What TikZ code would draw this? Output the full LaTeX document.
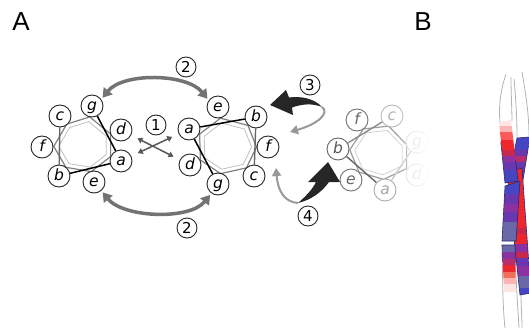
\documentclass[tikz,border=0pt]{standalone}
\usepackage{fontspec}
\setmainfont{Liberation Sans}
\newfontfamily\atomfont{DejaVu Sans}
\usetikzlibrary{arrows.meta,calc,fadings}

\pgfdeclarelayer{bg}
\pgfsetlayers{bg,main}

\tikzfading[name=fade right, left color=transparent!100, right color=transparent!0]

% palette for the chromatid bands
\definecolor{pkA}{RGB}{255,228,228}
\definecolor{pkB}{RGB}{255,180,180}
\definecolor{rdA}{RGB}{250,90,90}
\definecolor{rdB}{RGB}{238,38,45}
\definecolor{crm}{RGB}{200,40,75}
\definecolor{mgt}{RGB}{185,45,110}
\definecolor{pur}{RGB}{140,50,160}
\definecolor{vio}{RGB}{105,55,175}
\definecolor{blu}{RGB}{70,70,195}
\definecolor{slt}{RGB}{105,105,170}
\definecolor{orn}{RGB}{240,110,90}
\definecolor{nvy}{RGB}{40,40,105}

\tikzset{
  atom/.style={circle, draw=black!85, line width=0.9pt, fill=white,
    minimum size=22pt, inner sep=0pt, text height=8.2pt, text depth=0pt,
    font=\atomfont\itshape\fontsize{15.5}{15.5}\selectfont},
  numlbl/.style={circle, draw=black!85, line width=0.9pt, fill=white,
    minimum size=20pt, inner sep=0pt, text height=11pt, text depth=0pt,
    font=\atomfont\fontsize{15}{15}\selectfont},
  panel/.style={font=\fontsize{26}{26}\selectfont},
  ringo/.style={draw=black!50, line width=1.2pt, line join=round},
  ringi/.style={draw=black!25, line width=0.8pt, line join=round},
  bond/.style={draw=black, line width=1.5pt},
  gbond/.style={draw=black!60, line width=1.4pt},
  swapa/.style={draw=black!65, line width=1.5pt,
    {Triangle[length=5pt,width=6pt]}-{Triangle[length=5pt,width=6pt]},
    shorten <=7pt, shorten >=7pt},
  swapb/.style={draw=black!55, line width=3.5pt,
    {Triangle[length=9pt,width=11pt]}-{Triangle[length=9pt,width=11pt]}},
  lightarr/.style={draw=black!40, line width=2pt,
    -{Triangle[length=8pt,width=9pt]}},
  swoosh/.style={fill=black!85},
  outl/.style={draw=black!30, line width=0.8pt},
  edge/.style={draw=nvy, line width=0.6pt, line join=round}
}

\begin{document}
\begin{tikzpicture}[x=1pt,y=-1pt]
\useasboundingbox (0,0) rectangle (529,329);

% panel letters
\node[panel] (labA) at (21,21.5) {A};
\node[panel] (labB) at (423,21.5) {B};

% ---------------- left ring ----------------
\coordinate (Lo) at (84,145);
\node[atom] (Lc) at (60,116) {c};
\node[atom] (Lg) at (92,106) {g};
\node[atom] (Ld) at (121,130) {d};
\node[atom] (La) at (121,161) {a};
\node[atom] (Le) at (94,182) {e};
\node[atom] (Lb) at (59,176) {b};
\node[atom] (Lf) at (42,147) {f};

% ---------------- right ring ----------------
\coordinate (Ro) at (227,147);
\node[atom] (Rb) at (256,117) {b};
\node[atom] (Re) at (218,107) {e};
\node[atom] (Ra) at (189,129) {a};
\node[atom] (Rd) at (190,165) {d};
\node[atom] (Rg) at (218,184) {g};
\node[atom] (Rc) at (254,176) {c};
\node[atom] (Rf) at (268,147) {f};

% ---------------- faded ring ----------------
\coordinate (To) at (380,152);
\node[atom, draw=black!55, text=black!60] (Tf) at (357,120) {f};
\node[atom, draw=black!28, text=black!30] (Tc) at (392,116) {c};
\node[atom, draw=black!15, text=black!15] (Tg) at (417,142) {g};
\node[atom, draw=black!15, text=black!15] (Td) at (417,175) {d};
\node[atom, draw=black!32, text=black!35] (Ta) at (385,190) {a};
\node[atom, draw=black!55, text=black!60] (Te) at (351,180) {e};
\node[atom, draw=black!60, text=black!65] (Tb) at (338,149) {b};

% step numbers
\node[numlbl] (n1) at (156,125) {1};
\node[numlbl] (n2t) at (186,67) {2};
\node[numlbl] (n2b) at (187,228) {2};
\node[numlbl] (n3) at (310,85) {3};
\node[numlbl] (n4) at (308,216) {4};

\begin{pgfonlayer}{bg}
  % ring outlines
  \foreach \o/\p in {L/Lo, R/Ro}{
    \draw[ringi] ($(\p)!0.6!(\o c)$) -- ($(\p)!0.6!(\o g)$) -- ($(\p)!0.6!(\o d)$)
      -- ($(\p)!0.6!(\o a)$) -- ($(\p)!0.6!(\o e)$) -- ($(\p)!0.6!(\o b)$)
      -- ($(\p)!0.6!(\o f)$) -- cycle;
    \draw[ringo] ($(\p)!0.72!(\o c)$) -- ($(\p)!0.72!(\o g)$) -- ($(\p)!0.72!(\o d)$)
      -- ($(\p)!0.72!(\o a)$) -- ($(\p)!0.72!(\o e)$) -- ($(\p)!0.72!(\o b)$)
      -- ($(\p)!0.72!(\o f)$) -- cycle;
  }
  \draw[ringi, draw=black!18] ($(To)!0.6!(Tc)$) -- ($(To)!0.6!(Tg)$) -- ($(To)!0.6!(Td)$)
    -- ($(To)!0.6!(Ta)$) -- ($(To)!0.6!(Te)$) -- ($(To)!0.6!(Tb)$)
    -- ($(To)!0.6!(Tf)$) -- cycle;
  \draw[ringo, draw=black!38] ($(To)!0.72!(Tc)$) -- ($(To)!0.72!(Tg)$) -- ($(To)!0.72!(Td)$)
    -- ($(To)!0.72!(Ta)$) -- ($(To)!0.72!(Te)$) -- ($(To)!0.72!(Tb)$)
    -- ($(To)!0.72!(Tf)$) -- cycle;

  % bonds across the rings
  \draw[gbond] (Lc) -- (Lb);
  \draw[bond] (Lg) -- (La);
  \draw[bond] (Lb) -- (La);
  \draw[gbond] (Rc) -- (Rb);
  \draw[bond] (Rg) -- (Ra);
  \draw[bond] (Rb) -- (Ra);
  \draw[gbond, draw=black!45] (Tc) -- (Tb);
  \draw[gbond, draw=black!60] (Tb) -- (Ta);
  \draw[gbond, draw=black!20] (Tg) -- (Ta);
\end{pgfonlayer}

% fade the far side of the third ring
\fill[white, path fading=fade right] (396,95) rectangle (430,205);

% step 1: crossed exchange
\draw[swapa] (Ld) -- (Rd);
\draw[swapa] (La) -- (Ra);

% step 2: curved exchanges
\draw[swapb, shorten <=2pt, shorten >=2pt]
  (Lg.36) .. controls +(22,-27) and +(-22,-27) .. (Re.144);
\draw[swapb, shorten <=2pt, shorten >=2pt]
  (Le.-50) .. controls +(22,27) and +(-22,27) .. (Rg.-125);

% step 3
\coordinate (t3) at (322,107);
\coordinate (h3) at (290,132);
\fill[swoosh] (270,105) -- (286,90) -- (289,97.5)
  .. controls (300,96) and (314,98) .. (t3)
  .. controls (312,103) and (302,104) .. (292,107.5)
  -- (293,115) -- cycle;
\draw[lightarr] (t3) .. controls (330,113) and (318,124) .. (h3);

% step 4
\coordinate (t4) at (298,203);
\coordinate (h4) at (276,168);
\fill[swoosh] (t4) .. controls (306,196) and (312,190) .. (316,182)
  -- (308,182) -- (328,162) -- (340,182) -- (329,182)
  .. controls (322,192) and (311,200) .. (t4) -- cycle;
\draw[lightarr] (t4) .. controls (285,202) and (278,192) .. (h4);

% ---------------- panel B: crossing chromatids ----------------
% faint envelopes
\draw[outl] (506,74) .. controls (499,95) and (499,110) .. (500,124);
\draw[outl] (511,77) .. controls (511,95) and (512,110) .. (512,121);
\draw[outl] (514,79) .. controls (516,100) and (517,120) .. (517,138);
\draw[outl] (522,72) .. controls (526,95) and (529,115) .. (529,137);
\draw[outl] (503,245) .. controls (502,280) and (503,310) .. (505,328);
\draw[outl] (515,246) .. controls (516,285) and (518,310) .. (519,328);
\draw[outl] (521,295) .. controls (521,305) and (522,318) .. (522,328);

% upper right arm
\begin{scope}
  \clip (517,138) -- (530,137) -- (522,186) -- (508,183) -- cycle;
  \foreach \ya/\yb/\cl in {134/150/blu,150/156/vio,156/162/mgt,162/170/vio,170/190/blu}
    {\fill[\cl] (495,\ya) rectangle (535,\yb);}
\end{scope}
\draw[edge] (517,138) -- (530,137) -- (522,186) -- (508,183) -- cycle;

% lower right arm
\begin{scope}
  \clip (507,173) -- (522,168) -- (531,293) -- (520,295) -- cycle;
  \foreach \ya/\yb/\cl in {165/228/rdB,228/234/crm,234/244/rdB,244/252/pur,252/258/crm,
      258/266/vio,266/276/pur,276/288/slt,288/300/blu}
    {\fill[\cl] (495,\ya) rectangle (535,\yb);}
\end{scope}
\draw[edge] (507,173) -- (522,168) -- (531,293) -- (520,295) -- cycle;

% upper left arm
\begin{scope}
  \clip (499,122) -- (511,120) -- (518,181) -- (505,183) -- cycle;
  \foreach \ya/\yb/\cl in {116/126/pkA,126/132/pkB,132/140/rdA,140/150/rdB,150/156/crm,
      156/162/pur,162/170/vio,170/186/blu}
    {\fill[\cl] (495,\ya) rectangle (535,\yb);}
\end{scope}
\draw[edge] (500.8,142) -- (505,183) -- (518,181) -- (515.6,160);

% lower left arm, upper piece
\begin{scope}
  \clip (505,186) -- (520,181) -- (516,241) -- (502,241) -- cycle;
  \foreach \ya/\yb/\cl in {178/194/blu,194/204/vio,204/212/pur,212/222/vio,222/245/slt}
    {\fill[\cl] (495,\ya) rectangle (535,\yb);}
\end{scope}
\draw[edge] (505,186) -- (520,181) -- (516,241) -- (502,241) -- cycle;

% lower left arm, lower piece
\begin{scope}
  \clip (502,245) -- (515,245) -- (516,292) -- (504,292) -- cycle;
  \foreach \ya/\yb/\cl in {243/252/slt,252/259/pur,259/265/mgt,265/272/rdB,272/278/orn,
      278/284/pkB,284/293/pkA}
    {\fill[\cl] (495,\ya) rectangle (535,\yb);}
\end{scope}
\draw[edge] (502.4,262) -- (502,245) -- (515,245) -- (515.4,262);

\end{tikzpicture}
\end{document}
